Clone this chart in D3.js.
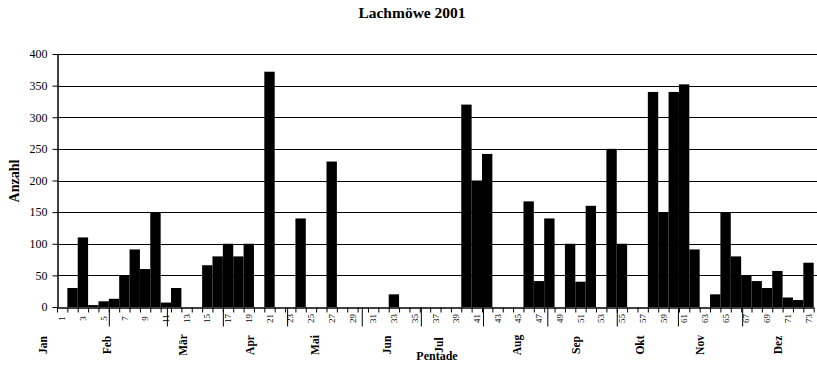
<!DOCTYPE html>
<html>
<head>
<meta charset="utf-8">
<script src="https://cdn.jsdelivr.net/npm/d3@7"></script>
<style>
  body { margin: 0; background: #fff; }
  svg { display: block; font-family: "Liberation Serif", "Times New Roman", serif; }
</style>
</head>
<body>
<svg id="chart" width="817" height="365"></svg>
<script>
// Black-headed gull counts per pentade (5-day period), 2001
const chartTitle = "Lachmöwe 2001";
const yTitle = "Anzahl";
const xTitle = "Pentade";

const pentades = d3.range(1, 74);
const counts = [
    0,  30, 110,   3,   9,  13,  50,  91,  60, 150,
    7,  30,   0,   0,  66,  80, 100,  80, 100,   0,
  372,   0,   0, 140,   0,   0, 230,   0,   0,   0,
    0,   0,  20,   0,   0,   0,   0,   0,   0, 320,
  200, 242,   0,   0,   0, 167,  41, 140,   0, 100,
   40, 160,   0, 250, 100,   0,   0, 340, 150, 340,
  352,  91,   0,  20, 150,  80,  50,  41,  30,  57,
   15,  11,  70
];
const yTicks = [0, 50, 100, 150, 200, 250, 300, 350, 400];

// Month names, where each name sits and where each month divider falls,
// in pentade units along the axis (0 = left edge of pentade 1)
const months = ["Jan", "Feb", "Mär", "Apr", "Mai", "Jun", "Jul", "Aug", "Sep", "Okt", "Nov", "Dez"];
const monthLabelAt = [-1.32, 4.85, 12.12, 18.61, 24.88, 31.79, 36.87, 44.33, 50.05, 56.22, 62.0, 69.56];
const monthBreaks = [5.0, 10.6, 16.0, 22.2, 29.4, 35.1, 41.1, 47.3, 54.0, 59.9, 66.1];

const plot = { left: 57, right: 813.7, top: 54, bottom: 307, gridEnd: 817 };

const svg = d3.select("#chart");

const x = d3.scaleBand().domain(pentades).range([plot.left, plot.right]).padding(0);
const xPos = d3.scaleLinear().domain([0, pentades.length]).range([plot.left, plot.right]);
const y = d3.scaleLinear().domain([0, 400]).range([plot.bottom, plot.top]);

// horizontal gridlines
svg.append("g")
  .attr("shape-rendering", "crispEdges")
  .selectAll("line")
  .data(yTicks.filter(d => d > 0))
  .join("line")
  .attr("x1", plot.left).attr("x2", plot.gridEnd)
  .attr("y1", d => Math.round(y(d)) + 0.5)
  .attr("y2", d => Math.round(y(d)) + 0.5)
  .attr("stroke", "#000").attr("stroke-width", 1);

// bars
svg.append("g")
  .selectAll("rect")
  .data(counts.map((v, i) => ({ p: pentades[i], v })))
  .join("rect")
  .attr("x", d => x(d.p))
  .attr("width", x.bandwidth())
  .attr("y", d => y(d.v))
  .attr("height", d => y(0) - y(d.v))
  .attr("fill", "#000");

// y axis
const yAxis = svg.append("g")
  .attr("transform", `translate(${plot.left + 0.5},0)`)
  .call(d3.axisLeft(y).tickValues(yTicks).tickSize(5).tickSizeOuter(0).tickPadding(5));
yAxis.select(".domain").attr("stroke-width", 1.5);
yAxis.selectAll("text")
  .attr("font-family", "Liberation Serif, serif")
  .attr("font-size", 12)
  .attr("fill", "#000");

// x axis: boundary ticks between pentades
svg.append("g")
  .attr("transform", `translate(0,${plot.bottom + 0.5})`)
  .call(d3.axisBottom(xPos).tickValues(d3.range(0, pentades.length + 1)).tickSize(5).tickSizeOuter(0).tickFormat(""))
  .call(g => g.select(".domain").attr("stroke-width", 1.5));

// x axis: month dividers
svg.append("g")
  .attr("transform", `translate(0,${plot.bottom + 0.5})`)
  .call(d3.axisBottom(xPos).tickValues(monthBreaks).tickSize(19).tickFormat(""))
  .call(g => g.select(".domain").remove());

// odd pentade numbers, rotated to read bottom-to-top
svg.append("g")
  .selectAll("g")
  .data(pentades.filter(p => p % 2 === 1))
  .join("g")
  .attr("transform", d => "translate(" + (x(d) + x.bandwidth() / 2) + "," + (plot.bottom + 11.5) + ")")
  .append("text")
  .attr("transform", "rotate(-90)")
  .attr("dy", "0.35em")
  .attr("text-anchor", "middle")
  .attr("font-size", 9)
  .text(d => d);

// month names, rotated the same way
svg.append("g")
  .selectAll("g")
  .data(months)
  .join("g")
  .attr("transform", (d, i) => "translate(" + xPos(monthLabelAt[i]) + ",345)")
  .append("text")
  .attr("transform", "rotate(-90)")
  .attr("dy", "0.35em")
  .attr("text-anchor", "middle")
  .attr("font-size", 11.5)
  .attr("font-weight", "bold")
  .text(d => d);

// titles
svg.append("text")
  .attr("x", 412).attr("y", 18)
  .attr("text-anchor", "middle")
  .attr("font-size", 15.5).attr("font-weight", "bold")
  .text(chartTitle);

svg.append("g")
  .attr("transform", "translate(14,181)")
  .append("text")
  .attr("transform", "rotate(-90)")
  .attr("dy", "0.35em")
  .attr("text-anchor", "middle")
  .attr("font-size", 14).attr("font-weight", "bold")
  .text(yTitle);

svg.append("text")
  .attr("x", 437).attr("y", 360)
  .attr("text-anchor", "middle")
  .attr("font-size", 12).attr("font-weight", "bold")
  .text(xTitle);
</script>
</body>
</html>
